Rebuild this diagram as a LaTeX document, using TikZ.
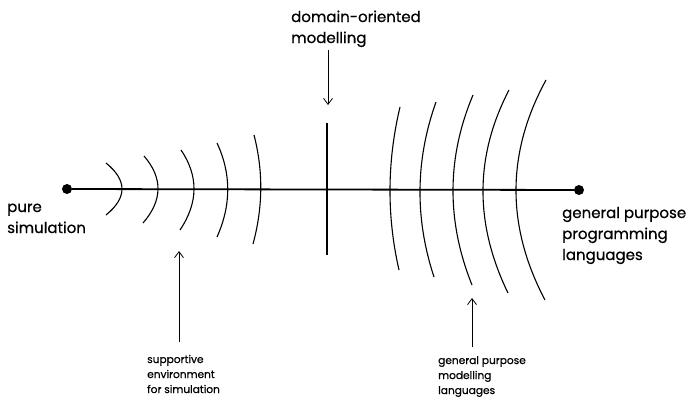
\documentclass[tikz,border=0pt]{standalone}
\usepackage{fontspec}
\setmainfont{Poppins}[FakeBold=0.6]
\usetikzlibrary{arrows.meta}
\begin{document}
\begin{tikzpicture}[x=1pt,y=-1pt,
  axis/.style={line width=1.8pt},
  wave/.style={line width=1.1pt},
  dotnode/.style={circle,fill=black,inner sep=0pt,minimum size=10pt},
  biglabel/.style={font=\fontsize{15}{21}\selectfont,align=left,inner sep=0pt,anchor=base west},
  smalllabel/.style={font=\fontsize{10.6}{15}\selectfont,align=left,inner sep=0pt,anchor=base west},
  pointer/.style={line width=0.8pt,-{Straight Barb[length=6pt,width=9pt]}}]
\useasboundingbox (0,0) rectangle (688,399);
% axis
\node[dotnode] (L) at (67,189) {};
\node[dotnode] (R) at (579,190) {};
\draw[axis] (L) -- (R);
% central bar
\coordinate (ctop) at (327,123);
\coordinate (cbot) at (327,255);
\draw[line width=1.6pt] (ctop) -- (cbot);
% left arcs
\draw[wave] (106,163) .. controls (127.33,180.33) and (127.33,197.67) .. (106,215);
\draw[wave] (144,156) .. controls (163,178) and (162.67,200.33) .. (143,223);
\draw[wave] (181,150) .. controls (198.67,176) and (198.33,202.67) .. (180,230);
\draw[wave] (217,143) .. controls (231.33,173.67) and (231.33,205) .. (217,237);
\draw[wave] (254,135) .. controls (263.33,171) and (263,207.33) .. (253,244);
% right arcs
\draw[wave] (400,107) .. controls (387,161.67) and (386.67,216) .. (399,270);
\draw[wave] (436,102) .. controls (415.33,160) and (414.67,218.33) .. (434,277);
\draw[wave] (473,95) .. controls (446.67,157.67) and (446.33,221) .. (472,285);
\draw[wave] (509,90) .. controls (474.67,156) and (474.33,223.67) .. (508,293);
\draw[wave] (546,80) .. controls (506.33,152.67) and (506,226) .. (545,300);
% labels (anchor = baseline of the last line)
\node[biglabel] (pure) at (7,233) {pure\\simulation};
\node[biglabel] (gpp) at (562,260) {general purpose\\programming\\languages};
\node[biglabel] (dom) at (291,43) {domain-oriented\\modelling};
\node[smalllabel] (sup) at (147,393) {supportive\\environment\\for simulation};
\node[smalllabel] (gpm) at (438,394) {general purpose\\modelling\\languages};
% pointers
\coordinate (domS) at (328,50);
\coordinate (domE) at (328,105);
\draw[pointer] (domS) -- (domE);
\coordinate (supS) at (179,342);
\coordinate (supE) at (179,251);
\draw[pointer] (supS) -- (supE);
\coordinate (gpmS) at (472,347);
\coordinate (gpmE) at (472,298);
\draw[pointer] (gpmS) -- (gpmE);
\end{tikzpicture}
\end{document}
